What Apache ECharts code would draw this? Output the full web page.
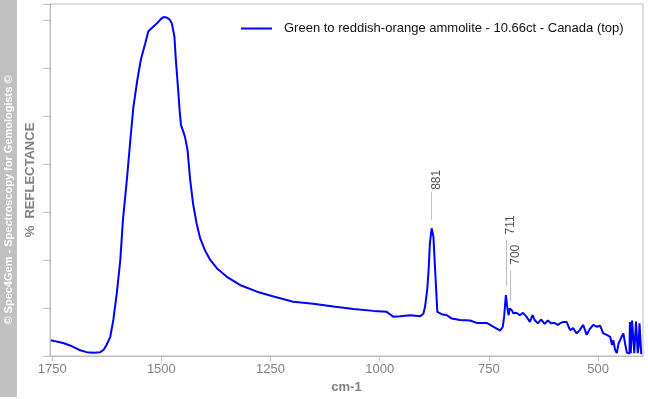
<!DOCTYPE html>
<html>
<head>
<meta charset="utf-8">
<script src="https://cdn.jsdelivr.net/npm/echarts@6/dist/echarts.min.js"></script>
<style>
  html, body { margin: 0; padding: 0; background: #fff; }
  #chart { width: 648px; height: 399px; }
</style>
</head>
<body>
<div id="chart"></div>
<script>
const seriesName = 'Green to reddish-orange ammolite - 10.66ct - Canada (top)'

// wavenumber (cm-1)
const wavenumbers = [
  1753, 1740, 1725, 1709, 1695, 1686, 1671, 1655, 1640, 1632,
  1625, 1617, 1610, 1602, 1594, 1588, 1579, 1571, 1564, 1555,
  1547, 1537, 1530, 1520, 1510, 1500, 1495, 1488, 1482, 1476,
  1470, 1467, 1462, 1458, 1455, 1450, 1446, 1440, 1434, 1427,
  1419, 1411, 1400, 1388, 1373, 1350, 1320, 1281, 1243, 1198,
  1152, 1106, 1060, 1014, 984, 975, 969, 953, 930, 907,
  900, 896, 891, 888, 885, 881, 877, 873, 868, 858,
  846, 835, 816, 793, 778, 755, 740, 730, 724, 718,
  715, 711, 708, 705, 702, 700, 697, 694, 687, 679,
  672, 664, 656, 650, 645, 638, 630, 622, 615, 607,
  600, 592, 587, 580, 572, 564, 557, 549, 542, 534,
  526, 519, 511, 503, 495, 488, 480, 472, 468, 465,
  461, 457, 453, 446, 442, 438, 434, 428, 427, 425,
  422, 419, 417, 415, 413, 411, 409, 407, 405, 403,
  401
]

// % reflectance (arbitrary units, one tick = 1)
const reflectance = [
  0.33, 0.30, 0.27, 0.22, 0.16, 0.12, 0.08, 0.07, 0.08, 0.13,
  0.24, 0.40, 0.75, 1.31, 2.00, 2.83, 3.67, 4.50, 5.19, 5.75,
  6.17, 6.51, 6.76, 6.85, 6.93, 7.03, 7.06, 7.05, 7.02, 6.93,
  6.65, 6.20, 5.60, 5.10, 4.81, 4.68, 4.57, 4.29, 3.67, 3.15,
  2.75, 2.45, 2.20, 2.00, 1.83, 1.65, 1.48, 1.34, 1.24, 1.13,
  1.09, 1.03, 0.98, 0.94, 0.92, 0.86, 0.82, 0.83, 0.85, 0.83,
  0.88, 1.03, 1.40, 1.79, 2.35, 2.66, 2.49, 1.79, 0.92, 0.87,
  0.85, 0.78, 0.75, 0.74, 0.69, 0.69, 0.61, 0.56, 0.53, 0.61,
  0.82, 1.27, 1.03, 0.85, 0.99, 1.03, 0.95, 0.89, 0.90, 0.85,
  0.90, 0.82, 0.71, 0.85, 0.75, 0.68, 0.76, 0.67, 0.74, 0.68,
  0.69, 0.65, 0.68, 0.71, 0.71, 0.54, 0.58, 0.47, 0.54, 0.65,
  0.44, 0.56, 0.65, 0.61, 0.63, 0.47, 0.44, 0.40, 0.23, 0.33,
  0.13, 0.06, 0.26, 0.40, 0.47, 0.26, 0.07, 0.05, 0.71, 0.06,
  0.74, 0.76, 0.06, 0.06, 0.72, 0.71, 0.06, 0.20, 0.68, 0.66,
  0.04
]

const xTicks = [1750, 1500, 1250, 1000, 750, 500]

// annotated peaks: position, leader line bottom/top, label centre
const peakPositions = [881, 711, 700]
const peakLineFrom = [2.83, 1.46, 1.13]
const peakLineTo = [3.42, 2.42, 1.79]
const peakLabelAt = [3.67, 2.73, 2.11]

const axisGray = '#bdbdbd'
const textGray = '#808080'

const chart = echarts.init(document.getElementById('chart'))

chart.setOption({
  animation: false,
  backgroundColor: '#fff',
  grid: {
    left: 50, right: 5, top: 4, bottom: 43,
    show: true, borderColor: axisGray, borderWidth: 1,
  },
  legend: {
    data: [{ name: seriesName, icon: 'rect' }],
    left: 241,
    top: 22,
    padding: 0,
    itemWidth: 31,
    itemHeight: 2,
    textStyle: { color: '#111', fontSize: 13, fontFamily: 'Liberation Sans, Arial', padding: [0, 0, 0, 7] },
  },
  graphic: [
    {
      type: 'rect',
      left: 0,
      top: 0,
      shape: { width: 17, height: 397 },
      style: { fill: '#c0c0c0' },
      silent: true,
    },
    {
      type: 'text',
      x: 9,
      y: 200,
      rotation: Math.PI / 2,
      style: {
        text: '© Spec4Gem - Spectroscopy for Gemologists ©',
        fill: '#fff',
        font: 'bold 11px "Liberation Sans", Arial',
        textAlign: 'center',
        textVerticalAlign: 'middle',
      },
      silent: true,
    },
  ],
  xAxis: {
    type: 'value',
    inverse: true,
    min: 397,
    max: 1755,
    name: 'cm-1',
    nameLocation: 'middle',
    nameGap: 24,
    nameTextStyle: { color: textGray, fontSize: 13, fontWeight: 'bold', fontFamily: 'Liberation Sans, Arial' },
    axisLine: { lineStyle: { color: axisGray } },
    axisTick: { length: 5, lineStyle: { color: axisGray }, customValues: xTicks },
    axisLabel: {
      color: textGray, fontSize: 13, margin: 7, fontFamily: 'Liberation Sans, Arial',
      customValues: xTicks,
      formatter: (v) => String(v),
    },
    splitLine: { show: false },
  },
  yAxis: {
    type: 'value',
    min: 0,
    max: 7.333,
    interval: 1,
    name: '%  REFLECTANCE',
    nameLocation: 'middle',
    nameGap: 13,
    nameTextStyle: { color: textGray, fontSize: 13, fontWeight: 'bold', fontFamily: 'Liberation Sans, Arial' },
    axisLine: { show: true, lineStyle: { color: axisGray } },
    axisTick: { show: true, length: 7, lineStyle: { color: axisGray } },
    axisLabel: { show: false },
    splitLine: { show: false },
  },
  series: [
    {
      name: seriesName,
      type: 'line',
      data: wavenumbers.map((w, i) => [w, reflectance[i]]),
      showSymbol: false,
      symbol: 'none',
      lineStyle: { color: '#0000ff', width: 2 },
      itemStyle: { color: '#0000ff' },
      markLine: {
        silent: true,
        symbol: ['none', 'none'],
        label: { show: false },
        lineStyle: { color: '#c0c0c0', width: 1, type: 'solid' },
        data: peakPositions.map((p, i) => [
          { coord: [p, peakLineFrom[i]] },
          { coord: [p, peakLineTo[i]] },
        ]),
      },
    },
    {
      name: 'peaks',
      type: 'scatter',
      symbolSize: 0,
      silent: true,
      data: peakPositions.map((p, i) => [p, peakLabelAt[i]]),
      label: {
        show: true,
        position: 'inside',
        rotate: 90,
        offset: [0, 5],
        color: '#222',
        fontSize: 12,
        fontFamily: 'Liberation Sans, Arial',
        formatter: (d) => String(peakPositions[d.dataIndex]),
      },
    },
  ],
})
</script>
</body>
</html>
